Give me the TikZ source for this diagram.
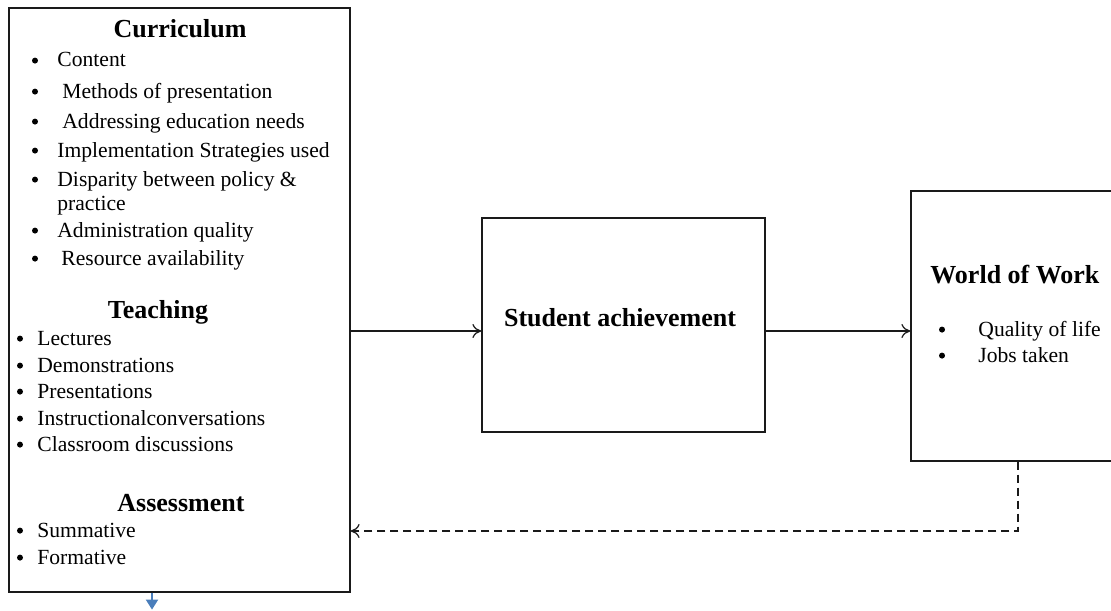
\documentclass[tikz,border=0pt]{standalone}
\usepackage{fontspec}
\setmainfont{Liberation Serif}
\usetikzlibrary{arrows.meta, positioning, calc}
\definecolor{DiagBlack}{HTML}{1A1A1A}
\definecolor{DiagBlue}{HTML}{4A7EBB}
\tikzset{
    % Box styles
    framebox/.style={
        rectangle,
        draw=DiagBlack,
        line width=0.6pt,
        fill=white
    },
    headtext/.style={
        font=\fontsize{13}{15}\selectfont\bfseries,
        inner sep=0pt,
        anchor=base
    },
    itemtext/.style={
        font=\fontsize{10.8}{12}\selectfont,
        inner sep=0pt,
        anchor=base west
    },
    dotmark/.style={
        circle,
        fill=black,
        inner sep=0pt,
        minimum size=3pt,
        yshift=3.2pt
    },
    % Arrow styles
    myarrow/.style={
        -{To[length=4.5pt,width=7pt]},
        line width=0.6pt,
        DiagBlack
    },
    dashedarrow/.style={
        myarrow,
        dash pattern=on 4pt off 2.5pt
    },
    bluearrow/.style={
        -{Triangle[length=5pt,width=6pt]},
        line width=1pt,
        DiagBlue
    }
}

\begin{document}
\begin{tikzpicture}[x=0.5pt, y=-0.5pt]
    \useasboundingbox (0,0) rectangle (1111,610);
    \clip (0,0) rectangle (1111,610);

    % Boxes
    \node[framebox, minimum width=170.5pt, minimum height=292pt] (curbox) at (179.5,300) {};
    \node[framebox, minimum width=141.5pt, minimum height=107pt] (stubox) at (623.5,325) {};
    \node[framebox, minimum width=105pt, minimum height=135pt] (wowbox) at (1016,326) {};

    % Curriculum
    \node[headtext] (curhead) at (180,38) {Curriculum};
    \foreach \txt/\tx/\ty [count=\i] in {Content/57/67, Methods of presentation/62/98,
        Addressing education needs/62/128, Implementation Strategies used/57/157,
        Disparity between policy \&/57/186, Administration quality/57/237,
        Resource availability/61/265}{
        \node[dotmark] (curdot-\i) at (35,\ty) {};
        \node[itemtext] (curitem-\i) at (\tx,\ty) {\txt};
    }
    \node[itemtext] (curitem-extra) at (57,210) {practice};

    % Teaching
    \node[headtext] (teachhead) at (158,318) {Teaching};
    \foreach \txt/\ty [count=\i] in {Lectures/345, Demonstrations/372, Presentations/398,
        Instructionalconversations/425, Classroom discussions/451}{
        \node[dotmark] (teachdot-\i) at (20,\ty) {};
        \node[itemtext] (teachitem-\i) at (37,\ty) {\txt};
    }

    % Assessment
    \node[headtext] (asshead) at (181,511) {Assessment};
    \foreach \txt/\ty [count=\i] in {Summative/537, Formative/564}{
        \node[dotmark] (assdot-\i) at (20,\ty) {};
        \node[itemtext] (assitem-\i) at (37,\ty) {\txt};
    }

    % Student achievement
    \node[headtext] (stuhead) at (620,326) {Student achievement};

    % World of Work
    \node[headtext, anchor=base west] (wowhead) at (930,283) {World of Work};
    \foreach \txt/\ty [count=\i] in {Quality of life/336, Jobs taken/362}{
        \node[dotmark] (wowdot-\i) at (942,\ty) {};
        \node[itemtext] (wowitem-\i) at (978,\ty) {\txt};
    }

    % Connectors
    \draw[myarrow] (curbox.east |- 0,331) -- (stubox.west |- 0,331);
    \draw[myarrow] (stubox.east |- 0,331) -- (wowbox.west |- 0,331);
    \coordinate (fbturn) at (1018,531);
    \draw[dashedarrow] (wowbox.south -| fbturn) -- (fbturn) -- (curbox.east |- fbturn);
    \draw[bluearrow] (curbox.south -| 152,0) -- ++(0,17);
\end{tikzpicture}
\end{document}
